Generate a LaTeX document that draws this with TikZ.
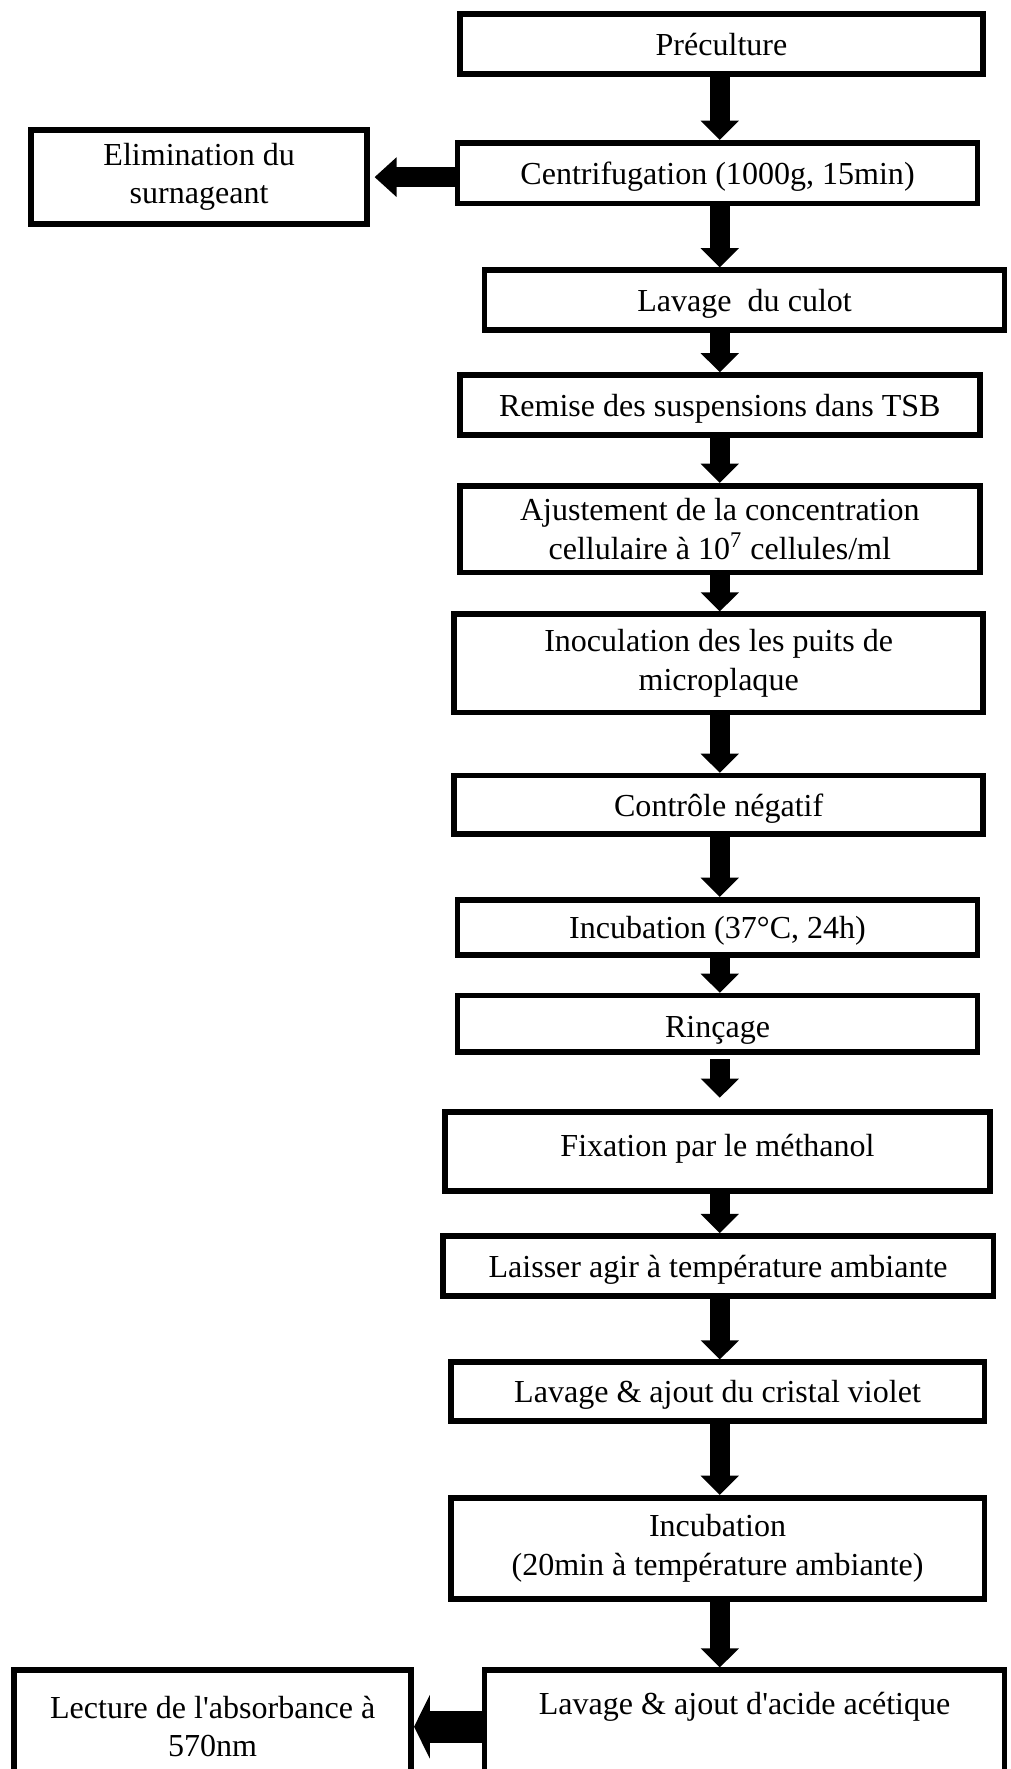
\documentclass[tikz,border=0pt]{standalone}
\usepackage{fontspec}
\setmainfont{Liberation Serif}
\usetikzlibrary{arrows.meta}
\begin{document}
\begin{tikzpicture}[x=0.5pt,y=-0.5pt,
  box/.style={draw, line width=2.5pt, rectangle, inner sep=2pt, align=center,
    font=\fontsize{14.2}{17}\selectfont},
  one/.style={text height=13pt, text depth=3pt},
  varrow/.style={line width=9pt, -{Triangle[length=8.5pt,width=16.5pt]}},
  harrow/.style={line width=9pt, -{Triangle[length=9.75pt,width=17pt]}},
  bigharrow/.style={line width=14pt, -{Triangle[length=7pt,width=28pt]}}]
\useasboundingbox (0,0) rectangle (896,1568);
\clip (0,0) rectangle (896,1568);
\coordinate (ax) at (638,0);

\node[box, one, minimum width=232pt, minimum height=26.5pt] (b1) at (639.5,39) {Préculture};
\node[box, one, minimum width=230.5pt, minimum height=27pt] (b2) at (636,153.5) {Centrifugation (1000g, 15min)};
\node[box, minimum width=149pt, minimum height=41.5pt] (b3) at (176.5,157) {Elimination du\\surnageant};
\node[box, one, minimum width=230.5pt, minimum height=26.5pt] (b4) at (660,266) {Lavage~ du culot};
\node[box, one, minimum width=230.5pt, minimum height=26.5pt] (b5) at (638,359) {Remise des suspensions dans TSB};
\node[box, minimum width=230.5pt, minimum height=38.5pt] (b6) at (638,469) {Ajustement de la concentration\\cellulaire à 10\textsuperscript{7} cellules/ml};
\node[box, minimum width=234.5pt, minimum height=43.5pt] (b7) at (637,588) {Inoculation des les puits de\\microplaque};
\node[box, one, minimum width=234.5pt, minimum height=26pt] (b8) at (637,713.5) {Contrôle négatif};
\node[box, one, minimum width=230.5pt, minimum height=24.5pt] (b9) at (636,822) {Incubation (37°C, 24h)};
\node[box, text height=15pt, text depth=3pt, minimum width=230.5pt, minimum height=25pt] (b10) at (636,907.5) {Rinçage};
\node[box, text height=13pt, text depth=8pt, minimum width=241.5pt, minimum height=35pt] (b11) at (636,1020.5) {Fixation par le méthanol};
\node[box, one, minimum width=244pt, minimum height=26.5pt] (b12) at (636.5,1122) {Laisser agir à température ambiante};
\node[box, one, minimum width=236.5pt, minimum height=26pt] (b13) at (636,1233.5) {Lavage \& ajout du cristal violet};
\node[box, minimum width=236.5pt, minimum height=45pt] (b14) at (636,1372.5) {Incubation\\(20min à température ambiante)};
\node[box, text height=12pt, text depth=23pt, minimum width=230.5pt, minimum height=50pt] (b15) at (660,1530.5) {Lavage \& ajout d\textquotesingle acide acétique};
\node[box, minimum width=176pt, minimum height=50pt] (b16) at (188.5,1530.5) {Lecture de l\textquotesingle absorbance à\\570nm};

\draw[varrow] (b1.south -| ax) -- (b2.north -| ax);
\draw[harrow, shorten >=2pt] (b3.east -| b2.west) -- (b3.east);
\draw[varrow] (b2.south -| ax) -- (b4.north -| ax);
\draw[varrow] (b4.south -| ax) -- (b5.north -| ax);
\draw[varrow] (b5.south -| ax) -- (b6.north -| ax);
\draw[varrow] (b6.south -| ax) -- (b7.north -| ax);
\draw[varrow] (b7.south -| ax) -- (b8.north -| ax);
\draw[varrow] (b8.south -| ax) -- (b9.north -| ax);
\draw[varrow] (b9.south -| ax) -- (b10.north -| ax);
\draw[varrow, shorten <=2pt, shorten >=5pt] (b10.south -| ax) -- (b11.north -| ax);
\draw[varrow] (b11.south -| ax) -- (b12.north -| ax);
\draw[varrow] (b12.south -| ax) -- (b13.north -| ax);
\draw[varrow] (b13.south -| ax) -- (b14.north -| ax);
\draw[varrow] (b14.south -| ax) -- (b15.north -| ax);
\draw[bigharrow] (b15.west) -- (b16.east);
\end{tikzpicture}
\end{document}
